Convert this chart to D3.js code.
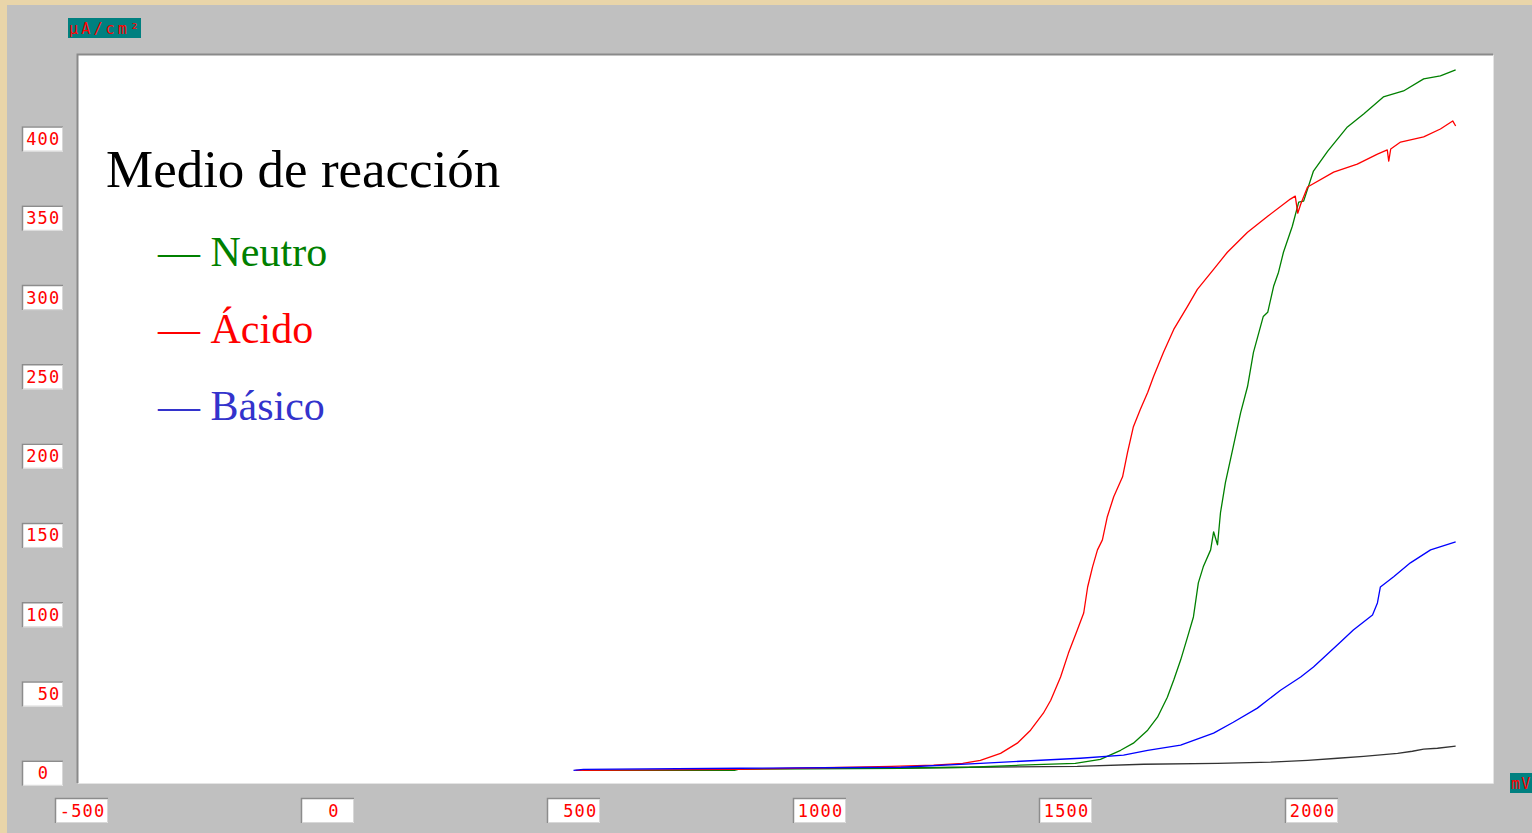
<!DOCTYPE html>
<html>
<head>
<meta charset="utf-8">
<script src="https://cdn.jsdelivr.net/npm/d3@7"></script>
<style>
  html, body { margin: 0; padding: 0; background: #e9d5a9; overflow: hidden; }
  svg { display: block; }
  .tick-txt { font-family: "DejaVu Sans Mono", monospace; font-size: 17px; fill: #ff0000; letter-spacing: 1.2px; }
  .legend { font-family: "Liberation Serif", "Times New Roman", serif; }
</style>
</head>
<body>
<svg id="chart" width="1532" height="833"></svg>
<script>
// tick labels
const xTicks = [-500, 0, 500, 1000, 1500, 2000];
const yTicks = [0, 50, 100, 150, 200, 250, 300, 350, 400];

// series: [potential mV, current µA/cm²]
const neutro = [
  [520, 1.9], [827, 1.9], [835, 2.5], [1165, 3.2], [1305, 3.8], [1407, 5.1], [1520, 6.3],
  [1571, 8.8], [1612, 14.5], [1638, 19.0], [1667, 27.2], [1687, 35.4], [1707, 48.0],
  [1720, 58.8], [1734, 71.4], [1748, 85.9], [1760, 98.6], [1770, 120.1], [1780, 130.2],
  [1795, 140.9], [1801, 152.3], [1809, 144.1], [1815, 164.3], [1825, 183.3], [1841, 206.0],
  [1856, 227.5], [1870, 243.9], [1882, 265.4], [1902, 288.1], [1911, 290.7], [1923, 307.1],
  [1933, 316.0], [1943, 328.6], [1961, 345.0], [1974, 360.2], [1984, 360.8], [2004, 379.8],
  [2033, 392.4], [2073, 407.6], [2106, 415.8], [2146, 426.5], [2187, 430.3], [2228, 437.9],
  [2262, 439.8], [2293, 443.6]
];
const acido = [
  [504, 1.9], [835, 2.5], [951, 3.2], [1069, 3.8], [1146, 4.4], [1232, 5.1], [1291, 6.3],
  [1327, 8.2], [1368, 12.6], [1402, 19.0], [1429, 27.2], [1455, 37.9], [1470, 46.1],
  [1490, 60.7], [1506, 75.8], [1524, 90.4], [1537, 101.1], [1545, 117.5], [1555, 130.2],
  [1565, 140.9], [1575, 147.2], [1585, 161.8], [1598, 174.4], [1616, 187.0], [1626, 202.2],
  [1638, 218.6], [1652, 229.4], [1667, 240.1], [1679, 250.2], [1699, 265.4], [1720, 279.9],
  [1748, 294.5], [1768, 305.2], [1801, 317.8], [1829, 328.6], [1870, 341.2], [1911, 351.3],
  [1957, 362.1], [1967, 364.0], [1972, 353.2], [1978, 358.9], [1992, 369.7], [2045, 379.1],
  [2093, 384.2], [2134, 390.5], [2154, 393.1], [2157, 386.1], [2161, 393.7], [2181, 398.1],
  [2228, 401.3], [2262, 406.3], [2287, 411.4], [2293, 408.2]
];
const basico = [
  [500, 1.9], [520, 2.5], [839, 3.2], [1165, 3.8], [1327, 6.3], [1409, 7.6], [1530, 9.5],
  [1618, 11.4], [1667, 14.5], [1734, 17.7], [1801, 25.3], [1841, 32.2], [1890, 41.1],
  [1937, 52.4], [1978, 60.7], [2004, 67.0], [2059, 82.8], [2085, 90.4], [2124, 99.8],
  [2134, 107.4], [2140, 117.5], [2167, 123.9], [2201, 132.7], [2242, 140.9], [2293, 146.0]
];
const blanco = [
  [1108, 3.2], [1305, 3.8], [1524, 4.4], [1659, 5.7], [1809, 6.3], [1917, 7.0], [1992, 8.2],
  [2053, 9.5], [2106, 10.7], [2175, 12.6], [2205, 13.9], [2228, 15.2], [2256, 15.8], [2293, 17.1]
];

const series = [
  { name: "Neutro", data: neutro, color: "#008000", legend: "#008000" },
  { name: "Ácido", data: acido, color: "#ff0000", legend: "#ff0000" },
  { name: "Básico", data: basico, color: "#0000ff", legend: "#3333cc" },
  { name: null, data: blanco, color: "#333333" }
];
// draw order: black first, then neutro, acido, basico on top
const drawOrder = [series[3], series[0], series[1], series[2]];

const svg = d3.select("#chart");

// panel + plot area
const plot = { x0: 78, y0: 55, x1: 1493, y1: 783 };

svg.append("rect").attr("x", 7).attr("y", 5).attr("width", 1532).attr("height", 833).attr("fill", "#c0c0c0");

svg.append("rect")
  .attr("x", plot.x0).attr("y", plot.y0)
  .attr("width", plot.x1 - plot.x0).attr("height", plot.y1 - plot.y0)
  .attr("fill", "#ffffff");
// bevel of plot area
svg.append("path")
  .attr("d", `M${plot.x0 - 0.5},${plot.y1}V${plot.y0 - 0.5}H${plot.x1}`)
  .attr("fill", "none").attr("stroke", "#8a8a8a").attr("stroke-width", 2);
svg.append("path")
  .attr("d", `M${plot.x0},${plot.y1 + 0.5}H${plot.x1 + 0.5}V${plot.y0}`)
  .attr("fill", "none").attr("stroke", "#e4e4e4").attr("stroke-width", 1);

const x = d3.scaleLinear().domain([-500, 2000]).range([81.5, 1311.5]);
const y = d3.scaleLinear().domain([0, 400]).range([773.3, 139]);

// little bevelled label boxes
function box(g, bw, bh) {
  g.append("rect").attr("x", -bw / 2).attr("y", -bh / 2).attr("width", bw).attr("height", bh)
    .attr("fill", "#ffffff");
  g.append("path")
    .attr("d", `M${-bw / 2 + 0.5},${bh / 2}V${-bh / 2 + 0.5}H${bw / 2}`)
    .attr("fill", "none").attr("stroke", "#8c8c8c").attr("stroke-width", 1.5);
  g.append("path")
    .attr("d", `M${-bw / 2 + 1},${bh / 2 - 0.5}H${bw / 2 - 0.5}V${-bh / 2 + 1}`)
    .attr("fill", "none").attr("stroke", "#d8d8d8").attr("stroke-width", 1);
}

const yg = svg.append("g").selectAll("g").data(yTicks).join("g")
  .attr("transform", d => `translate(42.5,${y(d)})`);
yg.each(function () { box(d3.select(this), 41, 25); });
yg.append("text").attr("class", "tick-txt")
  .attr("x", d => d === 0 ? 1 : 18)
  .attr("y", 6)
  .attr("text-anchor", d => d === 0 ? "middle" : "end")
  .text(d => d);

const xg = svg.append("g").selectAll("g").data(xTicks).join("g")
  .attr("transform", d => `translate(${x(d)},810.5)`);
xg.each(function () { box(d3.select(this), 53, 25); });
xg.append("text").attr("class", "tick-txt")
  .attr("x", d => d === 0 ? 6.5 : 24)
  .attr("y", 6)
  .attr("text-anchor", d => d === 0 ? "middle" : "end")
  .text(d => d === -500 ? "-500" : d);

// unit labels
svg.append("rect").attr("x", 68).attr("y", 18).attr("width", 73).attr("height", 20).attr("fill", "#008080");
svg.append("text").attr("class", "tick-txt").attr("x", 69).attr("y", 34)
  .style("font-size", "15px").style("letter-spacing", "0px").attr("textLength", 70).text("μA/cm²");
svg.append("rect").attr("x", 1510).attr("y", 773).attr("width", 30).attr("height", 20).attr("fill", "#008080");
svg.append("text").attr("class", "tick-txt").attr("x", 1511).attr("y", 789)
  .style("font-size", "15px").text("mV");

// curves
svg.append("clipPath").attr("id", "clip").append("rect")
  .attr("x", plot.x0).attr("y", plot.y0)
  .attr("width", plot.x1 - plot.x0).attr("height", plot.y1 - plot.y0);

const line = d3.line().x(d => x(d[0])).y(d => y(d[1]));

svg.append("g").attr("clip-path", "url(#clip)")
  .selectAll("path").data(drawOrder).join("path")
  .attr("d", d => line(d.data))
  .attr("fill", "none")
  .attr("stroke", d => d.color)
  .attr("stroke-width", 1.3)
  .attr("stroke-linejoin", "round");

// legend
const legend = svg.append("g").attr("class", "legend");
legend.append("text").attr("x", 106).attr("y", 187)
  .style("font-size", "53px").attr("fill", "#000").text("Medio de reacción");

legend.selectAll("text.item").data(series.filter(s => s.name)).join("text")
  .attr("class", "item")
  .attr("x", 158)
  .attr("y", (d, i) => 266 + i * 77)
  .style("font-size", "42px")
  .attr("fill", d => d.legend)
  .text(d => "— " + d.name);
</script>
</body>
</html>
